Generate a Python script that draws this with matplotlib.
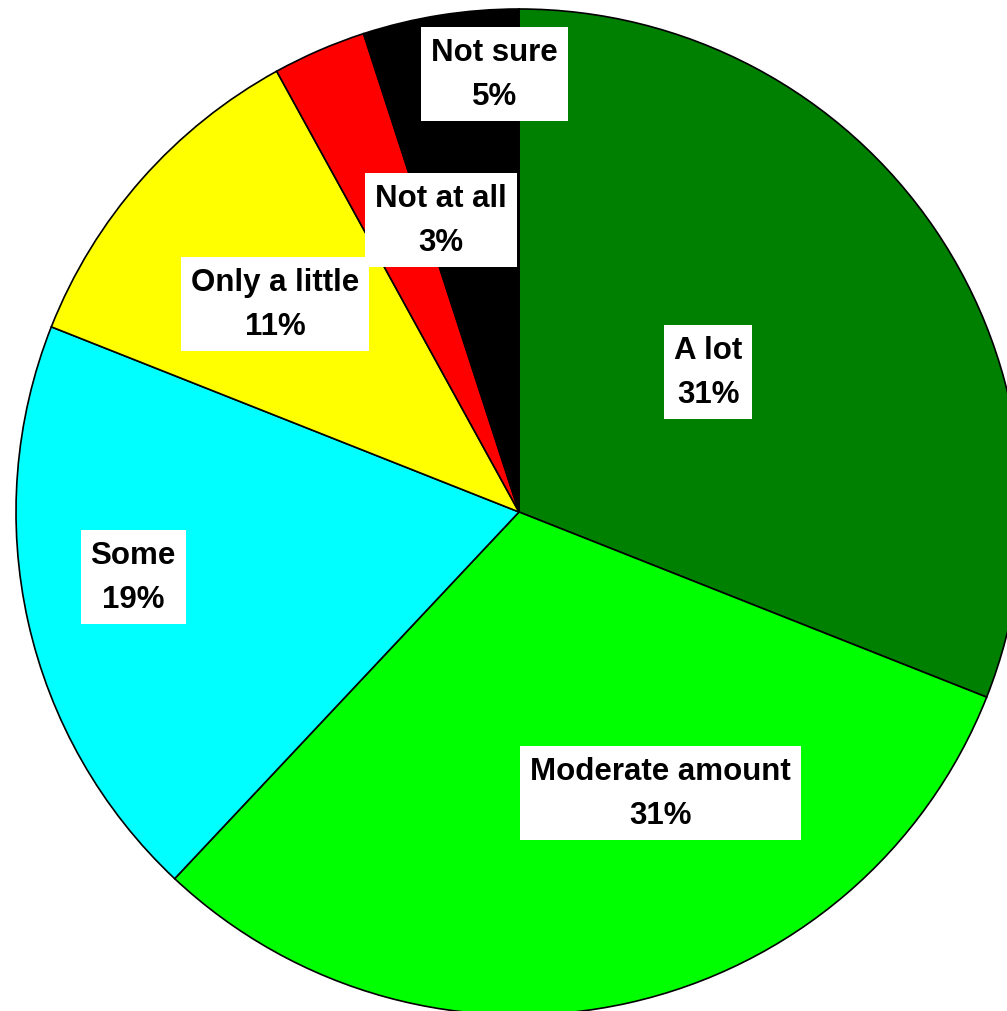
import matplotlib.pyplot as plt

categories = ['A lot', 'Moderate amount', 'Some', 'Only a little', 'Not at all', 'Not sure']
values = [31, 31, 19, 11, 3, 5]
colors = ['#008000', '#00FF00', '#00FFFF', '#FFFF00', '#FF0000', '#000000']

# label centres in pie units (radius = 1)
label_pos = [(0.376, 0.278), (0.282, -0.559), (-0.767, -0.129),
             (-0.485, 0.414), (-0.155, 0.581), (-0.048, 0.871)]

fig = plt.figure(figsize=(10.07, 10.12), dpi=100)
ax = fig.add_axes([16 / 1007, -4 / 1012, 1006 / 1007, 1006 / 1012])

ax.pie(values, colors=colors, startangle=90, counterclock=False,
       wedgeprops=dict(edgecolor='black', linewidth=1.2))
ax.set_xlim(-1, 1)
ax.set_ylim(-1, 1)

for name, val, (x, y) in zip(categories, values, label_pos):
    ax.text(x, y, f'{name}\n{val}%', ha='center', va='center',
            fontsize=22.5, fontweight='bold', family='Liberation Sans',
            linespacing=1.6,
            bbox=dict(boxstyle='square,pad=0.32', facecolor='white', edgecolor='none'))

fig.savefig('out.png', dpi=100)
